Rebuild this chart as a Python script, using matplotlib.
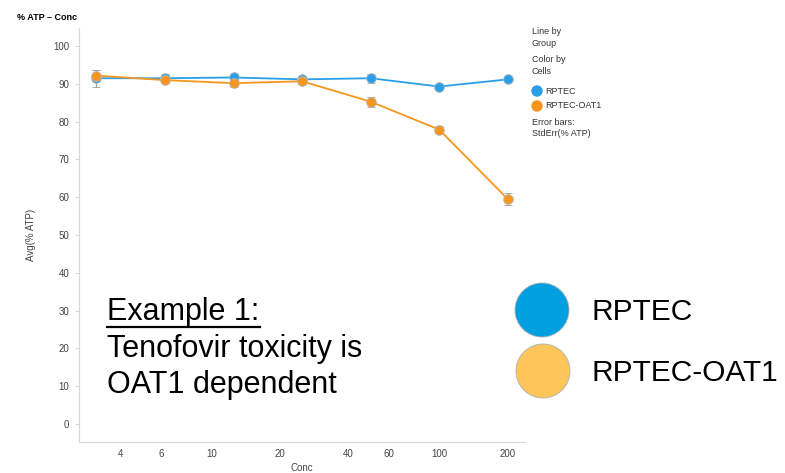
import matplotlib.pyplot as plt
from matplotlib.patches import Circle

# ---- data ----
conc = [3.125, 6.25, 12.5, 25, 50, 100, 200]
rptec = [91.5, 91.5, 91.7, 91.2, 91.5, 89.3, 91.2]
rptec_err = [2.2, 1.0, 1.0, 0.6, 1.2, 0.8, 0.6]
oat1 = [92.2, 91.0, 90.2, 90.7, 85.3, 77.9, 59.5]
oat1_err = [1.5, 0.8, 0.9, 0.6, 1.3, 0.9, 1.5]
xticks = [4, 6, 10, 20, 40, 60, 100, 200]
yticks = [0, 10, 20, 30, 40, 50, 60, 70, 80, 90, 100]
# --------------

W, H = 785, 473
plt.rcParams['font.family'] = ['Liberation Sans', 'DejaVu Sans']
fig = plt.figure(figsize=(W / 100, H / 100), dpi=100)

ax = fig.add_axes([79 / W, 1 - 442 / H, (525 - 79) / W, (442 - 28) / H])

blue = '#2a9fe8'
orange = '#f7961e'
for y, e, c in [(rptec, rptec_err, blue), (oat1, oat1_err, orange)]:
    ax.errorbar(conc, y, yerr=e, color=c, lw=1.3, marker='o', ms=7,
                mec='#b8b8b8', mew=0.6, ecolor='#a0a0a0', elinewidth=0.9,
                capsize=3, capthick=0.9, zorder=3)

ax.set_xscale('log')
ax.set_xlim(2.62, 238)
ax.set_ylim(-4.8, 104.8)
ax.set_xticks(xticks)
ax.set_xticklabels([str(t) for t in xticks])
ax.minorticks_off()
ax.set_yticks(yticks)
ax.tick_params(axis='x', length=0, labelsize=7, colors='#444444', pad=5)
ax.tick_params(axis='y', length=3, width=0.6, color='#cccccc', labelsize=7,
               labelcolor='#444444', pad=4)
for s in ['top', 'right']:
    ax.spines[s].set_visible(False)
for s in ['left', 'bottom']:
    ax.spines[s].set_color('#d8d8d8')
    ax.spines[s].set_linewidth(0.8)
ax.set_xlabel('Conc', fontsize=7, color='#444444', labelpad=3)
ax.set_ylabel('Avg(% ATP)', fontsize=7, color='#444444', labelpad=12)

def px(x, y):
    return x / W, 1 - y / H

fig.text(*px(17, 17), '% ATP – Conc', fontsize=6.5, fontweight='bold',
         va='center', ha='left')

# small legend
leg_lines = [('Line by', 32), ('Group', 44), ('Color by', 60), ('Cells', 72),
             ('Error bars:', 122), ('StdErr(% ATP)', 134)]
for t, y in leg_lines:
    fig.text(*px(532, y), t, fontsize=6.5, color='#333333', va='center')
for t, y, c in [('RPTEC', 91, blue), ('RPTEC-OAT1', 106, orange)]:
    fig.text(*px(545, y), t, fontsize=6.5, color='#333333', va='center')

# overlay for annotations
ov = fig.add_axes([0, 0, 1, 1], zorder=5)
ov.set_xlim(0, W)
ov.set_ylim(H, 0)
ov.axis('off')
for t, y, c in [('RPTEC', 91, blue), ('RPTEC-OAT1', 106, orange)]:
    ov.add_patch(Circle((537, y), 5, color=c))

ov.add_patch(Circle((542, 310), 27, facecolor='#009fdf', edgecolor='#b0b0b0', lw=0.6))
ov.add_patch(Circle((543, 371), 27, facecolor='#fdc55a', edgecolor='#b0b0b0', lw=0.6))
ov.text(592, 312, 'RPTEC', fontsize=21.5, va='center', ha='left')
ov.text(592, 373, 'RPTEC-OAT1', fontsize=21.5, va='center', ha='left')

ov.text(107, 312, 'Example 1:', fontsize=22, va='center', ha='left')
ov.plot([107, 260], [327, 327], color='black', lw=1.6)
ov.text(107, 349, 'Tenofovir toxicity is', fontsize=22, va='center', ha='left')
ov.text(107, 385, 'OAT1 dependent', fontsize=22, va='center', ha='left')

fig.savefig('out.png', dpi=100)
